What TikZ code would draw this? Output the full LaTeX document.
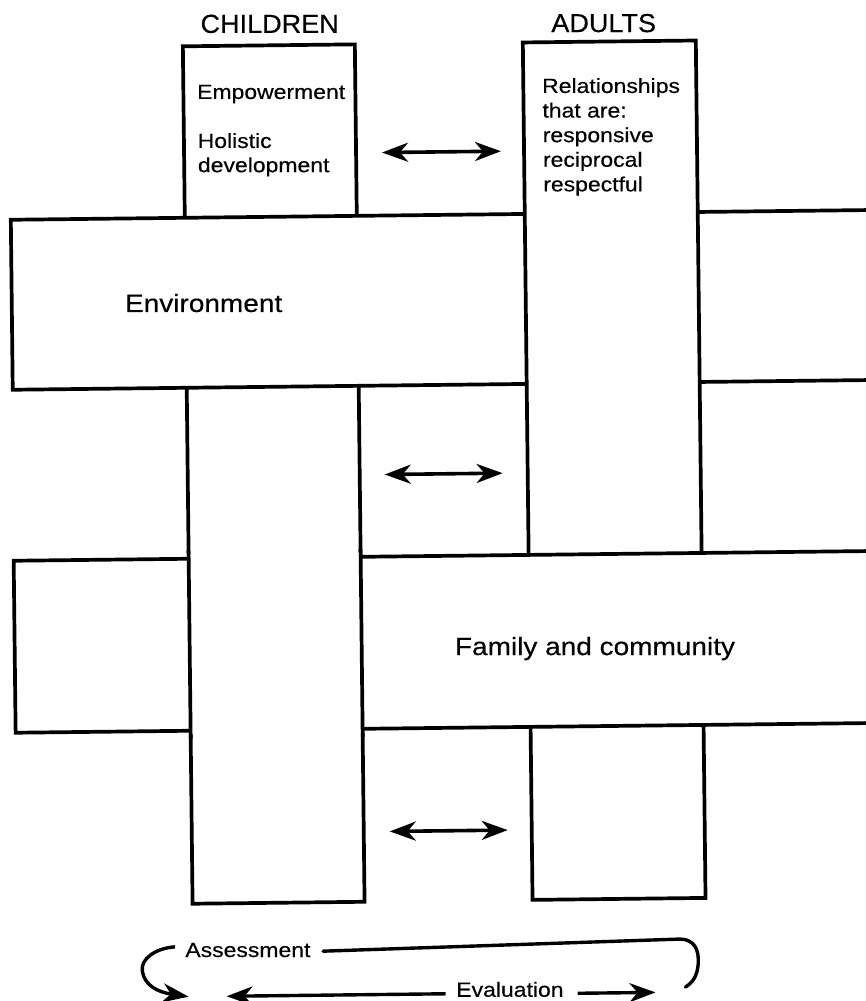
\documentclass[tikz,border=0pt]{standalone}
\usepackage{fontspec}
\setmainfont{Liberation Sans}[FakeStretch=1.12,FakeBold=0.35]
\newfontfamily\hdfont{Liberation Sans}[FakeStretch=1.04,FakeBold=0.35]
\usetikzlibrary{arrows.meta}
\begin{document}
\begin{tikzpicture}[x=1pt,y=-1pt,
  stripbox/.style={draw=black,fill=white,line width=3.7pt,line join=miter},
  edgeline/.style={draw=black,line width=3.7pt},
  smalltxt/.style={inner sep=0pt,anchor=base west,font=\fontsize{20.5}{24}\selectfont},
  bigtxt/.style={inner sep=0pt,anchor=base west,font=\fontsize{25}{30}\selectfont},
  headtxt/.style={inner sep=0pt,anchor=base,font=\hdfont\fontsize{26}{30}\selectfont},
  dblarrow/.style={line width=3.6pt,{Stealth[length=26pt,width=19pt,inset=8pt]}-{Stealth[length=26pt,width=19pt,inset=8pt]}},
  onearrow/.style={line width=3.4pt,-{Stealth[length=26pt,width=19pt,inset=8pt]}},
  loopline/.style={line width=3.4pt,line cap=round}
]
\useasboundingbox (0,0) rectangle (865,1001);
\begin{scope}[rotate around={0.65:(432,500)}]
  % children column
  \draw[stripbox] (188,43.5) rectangle (360,901);
  \node[smalltxt] (emp) at (201.5,96.3) {Empowerment};
  \node[smalltxt] (hol) at (201.5,145.3) {Holistic};
  \node[smalltxt] (dev) at (201.5,169.5) {development};
  % environment band (over children)
  \draw[stripbox] (14,215) rectangle (920,385);
  \node[bigtxt] (env) at (127,308.5) {Environment};
  % adults column (over environment)
  \draw[stripbox] (528,43.5) rectangle (701,901);
  \node[smalltxt] (r1) at (546.6,94.2) {Relationships};
  \node[smalltxt] (r2) at (546.6,118.8) {that are:};
  \node[smalltxt] (r3) at (546.6,143.4) {responsive};
  \node[smalltxt] (r4) at (546.6,168) {reciprocal};
  \node[smalltxt] (r5) at (546.6,192.6) {respectful};
  % family band (over adults)
  \draw[stripbox] (13,556) rectangle (920,728);
  % children column passes over family band
  \fill[white] (188,552) rectangle (360,732);
  \draw[edgeline] (188,548) -- (188,736);
  \draw[edgeline] (360,548) -- (360,736);
  \node[bigtxt] (fam) at (453,655.3) {Family and community};
  % headings
  \node[headtxt] (ch) at (275,31) {CHILDREN};
  \node[headtxt] (ad) at (609,34) {ADULTS};
  % double arrows between columns
  \coordinate (a1l) at (386,152);
  \coordinate (a1r) at (505,152);
  \coordinate (a2l) at (385,474);
  \coordinate (a2r) at (503,474);
  \coordinate (a3l) at (386,831);
  \coordinate (a3r) at (504,831);
  \draw[dblarrow] (a1l) -- (a1r);
  \draw[dblarrow] (a2l) -- (a2r);
  \draw[dblarrow] (a3l) -- (a3r);
  % assessment / evaluation cycle
  \node[smalltxt] (ass) at (180,954.2) {Assessment};
  \node[smalltxt] (eva) at (450.5,997) {Evaluation};
  \coordinate (c1) at (170,944);
  \coordinate (c2) at (137,968);
  \coordinate (c3) at (183,994);
  \draw[onearrow] (c1) .. controls (150,945) and (135,956) .. (c2)
        .. controls (139,982) and (152,989) .. (c3);
  \coordinate (l1) at (318,950);
  \coordinate (l2) at (672,942);
  \coordinate (l3) at (693,967);
  \coordinate (l4) at (680,990);
  \draw[loopline] (l1) -- (l2) .. controls (690,941) and (694,953) .. (l3)
        .. controls (692,978) and (688,985) .. (l4);
  \coordinate (e1) at (440,994);
  \coordinate (e2) at (221,994);
  \coordinate (e3) at (572,995);
  \coordinate (e4) at (650,995);
  \draw[onearrow] (e1) -- (e2);
  \draw[onearrow] (e3) -- (e4);
\end{scope}
\end{tikzpicture}
\end{document}
